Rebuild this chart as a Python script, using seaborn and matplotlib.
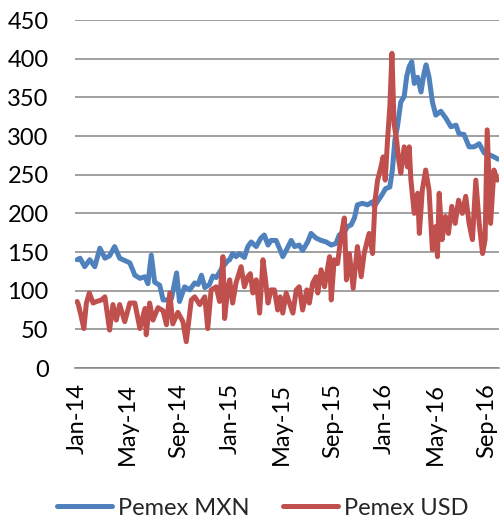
import matplotlib
matplotlib.use("Agg")
import matplotlib.pyplot as plt
import matplotlib.dates as mdates
import seaborn as sns
import pandas as pd

mxn_dates = ["2014-01-02","2014-01-09","2014-01-20","2014-02-01","2014-02-13","2014-02-25","2014-03-09","2014-03-20",
             "2014-04-01","2014-04-13","2014-04-25","2014-05-07","2014-05-19","2014-05-31","2014-06-12","2014-06-19",
             "2014-06-27","2014-07-05","2014-07-17","2014-07-25","2014-08-02","2014-08-14","2014-08-26","2014-09-02",
             "2014-09-14","2014-09-26","2014-10-08","2014-10-16","2014-10-24","2014-11-01","2014-11-12","2014-11-20",
             "2014-11-28","2014-12-14","2014-12-26",
             "2014-12-30","2015-01-06","2015-01-14","2015-01-22","2015-02-03","2015-02-11","2015-02-19","2015-03-03",
             "2015-03-14","2015-03-22","2015-03-31","2015-04-07","2015-04-19","2015-04-27","2015-05-05","2015-05-13",
             "2015-05-25","2015-06-02","2015-06-13","2015-06-21","2015-07-03","2015-07-11","2015-07-23","2015-08-04",
             "2015-08-16","2015-08-28","2015-09-08","2015-09-16","2015-09-28","2015-10-06","2015-10-14","2015-10-22",
             "2015-10-29","2015-11-10","2015-11-22","2015-12-04",
             "2015-12-08","2015-12-24","2016-01-04","2016-01-14","2016-01-20","2016-01-26","2016-02-01","2016-02-09",
             "2016-02-17","2016-02-23","2016-02-29","2016-03-06","2016-03-12","2016-03-20","2016-03-28","2016-04-04",
             "2016-04-09","2016-04-16","2016-04-24","2016-05-02","2016-05-14","2016-05-26","2016-06-07","2016-06-19",
             "2016-06-26","2016-07-08","2016-07-20","2016-08-01","2016-08-13","2016-08-25","2016-09-05","2016-09-17",
             "2016-09-27"]
mxn_values = [140, 142, 131, 140, 131, 155, 142, 145,
              157, 142, 139, 136, 120, 116, 118, 109,
              146, 111, 107, 88, 88, 90, 123, 86,
              105, 101, 110, 108, 120, 104, 108, 119,
              117, 131, 139,
              140, 148, 144, 148, 143, 157, 163, 157,
              168, 172, 159, 165, 165, 155, 144, 152,
              165, 157, 159, 152, 163, 174, 168, 165,
              163, 159, 161, 172, 176, 183, 185, 194,
              211, 213, 211, 215,
              209, 222, 232, 234, 256, 295, 312, 344,
              351, 377, 390, 396, 368, 376, 357, 381,
              392, 376, 344, 327, 332, 323, 312, 314,
              303, 302, 286, 286, 290, 278, 276, 273,
              270]

usd_dates = ["2014-01-02","2014-01-05","2014-01-12","2014-01-18","2014-01-24","2014-01-31","2014-02-09","2014-02-17",
             "2014-03-01","2014-03-09","2014-03-20","2014-03-28","2014-04-05","2014-04-13","2014-04-25","2014-05-07",
             "2014-05-19","2014-05-31","2014-06-12","2014-06-15","2014-06-23","2014-07-01","2014-07-13","2014-07-25",
             "2014-08-02","2014-08-10","2014-08-17","2014-08-29","2014-09-10","2014-09-18","2014-09-30","2014-10-08",
             "2014-10-20","2014-11-01","2014-11-08","2014-11-16","2014-11-28","2014-12-06","2014-12-14","2014-12-18",
             "2014-12-26",
             "2014-12-30","2015-01-06","2015-01-14","2015-01-26","2015-02-03","2015-02-11","2015-02-17","2015-02-23",
             "2015-03-03","2015-03-11","2015-03-19","2015-03-25","2015-03-31","2015-04-07","2015-04-15","2015-04-23",
             "2015-04-29","2015-05-05","2015-05-13","2015-05-21","2015-05-29","2015-06-06","2015-06-13","2015-06-21",
             "2015-07-01","2015-07-07","2015-07-15","2015-07-23","2015-07-27","2015-08-04","2015-08-12","2015-08-24",
             "2015-08-28","2015-09-04","2015-09-12","2015-09-20","2015-09-28","2015-10-03","2015-10-10","2015-10-19",
             "2015-10-29","2015-11-07","2015-11-14","2015-11-22",
             "2015-11-26","2015-12-04","2015-12-10","2015-12-16","2015-12-24","2015-12-29","2016-01-03","2016-01-09",
             "2016-01-14","2016-01-19","2016-01-24","2016-01-30","2016-02-04","2016-02-09","2016-02-17","2016-02-25",
             "2016-02-29","2016-03-04","2016-03-12","2016-03-20","2016-03-24","2016-03-31","2016-04-08","2016-04-16",
             "2016-04-24","2016-05-02","2016-05-06","2016-05-10","2016-05-17","2016-05-25","2016-06-01","2016-06-09",
             "2016-06-17","2016-06-25","2016-07-04","2016-07-12","2016-07-20","2016-07-28","2016-08-05","2016-08-13",
             "2016-08-21","2016-08-27","2016-09-01","2016-09-09","2016-09-17","2016-09-25"]
usd_values = [86, 82, 66, 51, 84, 97, 84, 86,
              88, 92, 49, 82, 62, 82, 60, 84,
              84, 51, 77, 43, 84, 62, 78, 74,
              56, 97, 57, 72, 60, 34, 88, 92,
              82, 92, 51, 101, 105, 86, 144, 64,
              105,
              114, 84, 110, 131, 105, 118, 122, 97,
              114, 71, 140, 114, 84, 101, 101, 75,
              92, 71, 97, 84, 71, 101, 105, 75,
              101, 84, 110, 118, 97, 127, 105, 144,
              88, 140, 135, 170, 194, 114, 148, 103,
              157, 118, 148, 166,
              174, 148, 217, 243, 260, 273, 243, 299,
              338, 407, 316, 295, 269, 252, 286, 260,
              286, 243, 200, 226, 174, 230, 256, 230,
              153, 183, 144, 226, 166, 196, 174, 209,
              187, 217, 200, 222, 187, 166, 243, 187,
              148, 166, 308, 187, 256, 243]

series_names = ["Pemex MXN", "Pemex USD"]
colors = ["#4F81BD", "#C0504D"]
y_ticks = [0, 50, 100, 150, 200, 250, 300, 350, 400, 450]

df = pd.concat([
    pd.DataFrame({"date": pd.to_datetime(mxn_dates), "value": mxn_values, "series": series_names[0]}),
    pd.DataFrame({"date": pd.to_datetime(usd_dates), "value": usd_values, "series": series_names[1]}),
], ignore_index=True)

sns.set_style("white")
plt.rcParams["font.family"] = ["Lato", "DejaVu Sans"]

fig = plt.figure(figsize=(5.0, 5.2), dpi=100)
ax = fig.add_axes([0.15, 0.2923, 0.848, 0.6692])

sns.lineplot(data=df, x="date", y="value", hue="series", palette=colors,
             estimator=None, linewidth=3.6, ax=ax, legend=True)

ax.set_ylim(0, 450)
ax.set_yticks(y_ticks)
ax.set_xlim(pd.Timestamp("2013-12-28"), pd.Timestamp("2016-09-29"))
ax.xaxis.set_major_locator(mdates.MonthLocator(bymonth=[1, 5, 9]))
ax.xaxis.set_major_formatter(mdates.DateFormatter("%b-%y"))
ax.grid(axis="y", color="#868686", linewidth=1.1)
ax.set_axisbelow(True)
for s in ["top", "right", "left"]:
    ax.spines[s].set_visible(False)
ax.spines["bottom"].set_color("#868686")
ax.spines["bottom"].set_linewidth(1.1)
ax.tick_params(axis="both", length=0, labelsize=17, colors="black")
ax.tick_params(axis="y", pad=19)
ax.tick_params(axis="x", pad=11)
plt.setp(ax.get_xticklabels(), rotation=90, ha="center", va="top")
ax.set_xlabel("")
ax.set_ylabel("")

handles, labels = ax.get_legend_handles_labels()
ax.get_legend().remove()
leg = fig.legend(handles, labels, loc="center", bbox_to_anchor=(0.525, 0.023),
                 ncol=2, frameon=False, fontsize=17, handlelength=2.35,
                 columnspacing=1.4, handletextpad=0.25, borderpad=0)
for line in leg.get_lines():
    line.set_linewidth(3.6)

fig.savefig("out.png", dpi=100)
